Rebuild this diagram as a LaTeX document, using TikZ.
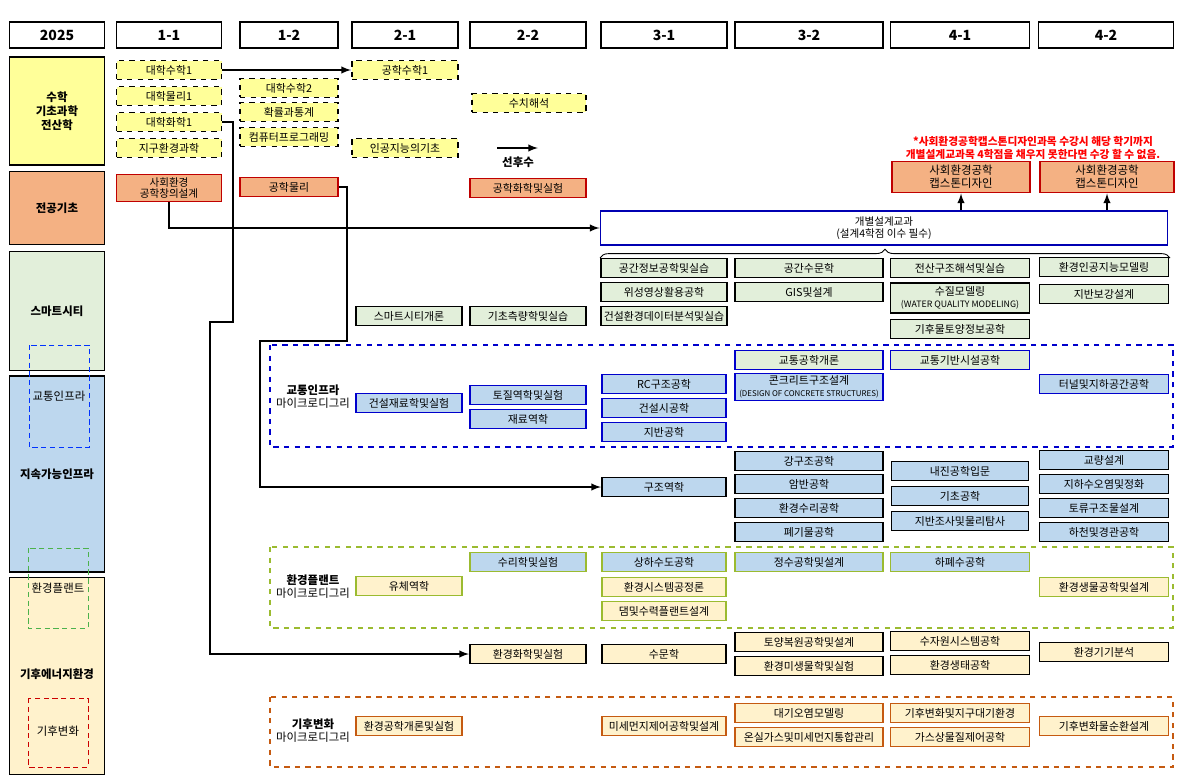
\documentclass[tikz,border=0pt]{standalone}
\usepackage{fontspec}
\setmainfont{Noto Sans CJK KR}
\usetikzlibrary{decorations.pathreplacing}
\definecolor{cYel}{HTML}{FFFF99}
\definecolor{cOra}{HTML}{F4B183}
\definecolor{cGrn}{HTML}{E2EFDA}
\definecolor{cBlu}{HTML}{BDD7EE}
\definecolor{cSan}{HTML}{FFF2CC}
\definecolor{bRed}{HTML}{C00000}
\definecolor{bBlu}{HTML}{0000CC}
\definecolor{bGrn}{HTML}{9BBB30}
\definecolor{bOra}{HTML}{C55A11}
\tikzset{
  crs/.style={draw, line width=1.1pt, minimum height=0.38cm, inner sep=0pt, align=center, font=\fontsize{6.2}{7}\selectfont},
  hdr/.style={draw, line width=0.6pt, minimum height=0.52cm, minimum width=1.9cm, font=\fontsize{8}{9}\selectfont\bfseries},
  cat/.style={draw, line width=0.6pt, minimum width=1.9cm, align=center, font=\fontsize{6.5}{8}\selectfont\bfseries},
  mdeg/.style={align=center, font=\fontsize{6.5}{7.5}\selectfont},
  lnk/.style={line width=0.9pt, -latex},
}
\begin{document}
\begin{tikzpicture}[x=0.02cm, y=-0.02cm]
\useasboundingbox (0,0) rectangle (1184,781);

% year header
\foreach \t/\x/\w in {2025/57/95, 1-1/169/105, 1-2/289/98, 2-1/405/106, 2-2/528/116, 3-1/664/126, 3-2/809/148, 4-1/960/139, 4-2/1106/135}
  \node[hdr, minimum width=\w*0.02cm] (h\t) at (\x,35) {\t};

% left categories
\node[cat, fill=cYel, minimum height=108*0.02cm] (kMath) at (57,111) {수학\\기초과학\\전산학};
\node[cat, fill=cOra, minimum height=73*0.02cm] (kBase) at (57,208) {전공기초};
\node[cat, fill=cGrn, minimum height=119*0.02cm] (kSmart) at (57,311) {스마트시티};
\node[cat, fill=cBlu, minimum height=196*0.02cm] (kInfra) at (57,474) {지속가능인프라};
\node[cat, fill=cSan, minimum height=197*0.02cm, text depth=0pt] (kEnv) at (57,676) {};
\node[cat, draw=none] at (57,674) {기후에너지환경};
\draw[blue!80!cyan, densely dashed, line width=0.4pt] (29,345) rectangle (89,447);
\node[mdeg] at (59,396) {교통인프라};
\draw[green!40!gray, densely dashed, line width=0.4pt] (28,548) rectangle (88,628);
\node[mdeg] at (58,588) {환경플랜트};
\draw[red!80!black, densely dashed, line width=0.4pt] (28,698) rectangle (88,767);
\node[mdeg] at (58,731) {기후변화};

% microdegree frames
\draw[bBlu, dashed, line width=1.1pt] (270,345) rectangle (1173,447);
\draw[bGrn, dashed, line width=1.1pt] (270,547) rectangle (1173,628);
\draw[bOra, dashed, line width=1.1pt] (270,697) rectangle (1173,767);
\node[mdeg] at (313,397) {\textbf{교통인프라}\\마이크로디그리};
\node[mdeg] at (313,587) {\textbf{환경플랜트}\\마이크로디그리};
\node[mdeg] at (313,731) {\textbf{기후변화}\\마이크로디그리};

% basic science (dashed)
\foreach \n/\x/\y/\w/\t in {m1/169/70/105/대학수학1, m2/169/96/105/대학물리1, m3/169/122/105/대학화학1, m4/169/148/105/지구환경과학,
  m5/289/88/98/대학수학2, m6/289/112/98/확률과통계, m7/289/137/98/컴퓨터프로그래밍,
  m8/405/70/106/공학수학1, m9/405/148/106/인공지능의기초, m10/529/103/114/수치해석}
  \node[crs, fill=cYel, dashed, minimum width=\w*0.02cm] (\n) at (\x,\y) {\t};

% legend
\coordinate (lgA) at (497,148);
\coordinate (lgB) at (538,148);
\draw[lnk] (lgA) -- (lgB);
\node[font=\fontsize{6.5}{7}\selectfont\bfseries] at (518,162) {선후수};

% major basics
\node[crs, fill=cOra, draw=bRed, minimum width=105*0.02cm, minimum height=27*0.02cm, font=\fontsize{6}{6.5}\selectfont] (b1) at (169,188) {사회환경\\공학창의설계};
\node[crs, fill=cOra, draw=bRed, minimum width=98*0.02cm] (b2) at (289,187) {공학물리};
\node[crs, fill=cOra, draw=bRed, minimum width=116*0.02cm] (b3) at (528,188) {공학화학및실험};
\node[crs, fill=cOra, draw=bRed, minimum width=138*0.02cm, minimum height=31*0.02cm, font=\fontsize{6.5}{7.5}\selectfont] (cap1) at (961,177) {사회환경공학\\캡스톤디자인};
\node[crs, fill=cOra, draw=bRed, minimum width=134*0.02cm, minimum height=31*0.02cm, font=\fontsize{6.5}{7.5}\selectfont] (cap2) at (1107,177) {사회환경공학\\캡스톤디자인};
\node[red, align=center, font=\fontsize{6.1}{7.6}\selectfont\bfseries] at (1033,148) {*사회환경공학캡스톤디자인과목 수강시 해당 학기까지\\개별설계교과목 4학점을 채우지 못한다면 수강 할 수 없음.};
\node[draw=blue!70!black, line width=1.1pt, fill=white, minimum width=567*0.02cm, minimum height=28*0.02cm, align=center, font=\fontsize{6}{7}\selectfont] (dsn) at (884,228) {개별설계교과\\(설계4학점 이수 필수)};
\draw[decorate, decoration={brace, amplitude=5pt}, line width=0.5pt] (600,258) -- (1170,258);

% smart city
\foreach \n/\x/\y/\w/\t in {s1/664/268/126/공간정보공학및실습, s2/664/292/126/위성영상활용공학, s3/664/316/126/건설환경데이터분석및실습,
  s4/809/268/148/공간수문학, s5/809/292/148/GIS및설계, s6/960/268/139/전산구조해석및실습, s8/960/329/139/기후물토양정보공학,
  s9/1104/267/129/환경인공지능모델링, s10/1104/294/129/지반보강설계, s11/409/316/106/스마트시티개론, s12/528/316/116/기초측량학및실습}
  \node[crs, fill=cGrn, minimum width=\w*0.02cm] (\n) at (\x,\y) {\t};
\node[crs, fill=cGrn, minimum width=139*0.02cm, minimum height=30*0.02cm] (s7) at (960,298) {수질모델링\\{\fontsize{5}{6}\selectfont (WATER QUALITY MODELING)}};

% transport infra
\foreach \n/\x/\y/\w/\t in {t1/409/403/106/건설재료학및실험, t2/528/395/116/토질역학및실험, t3/528/419/116/재료역학,
  t4/664/384/124/RC구조공학, t5/664/408/124/건설시공학, t6/664/432/124/지반공학, t9/1104/384/129/터널및지하공간공학}
  \node[crs, fill=cBlu, draw=bBlu, minimum width=\w*0.02cm] (\n) at (\x,\y) {\t};
\node[crs, fill=cGrn, draw=bBlu, minimum width=148*0.02cm] (t7) at (809,360) {교통공학개론};
\node[crs, fill=cGrn, draw=bBlu, minimum width=139*0.02cm] (t8) at (960,360) {교통기반시설공학};
\node[crs, fill=cBlu, draw=bBlu, minimum width=148*0.02cm, minimum height=27*0.02cm] (t10) at (809,387) {콘크리트구조설계\\{\fontsize{4.5}{5.5}\selectfont (DESIGN OF CONCRETE STRUCTURES)}};

% infra
\foreach \n/\x/\y/\w/\t in {i1/664/487/124/구조역학, i2/809/461/148/강구조공학, i3/809/484/148/암반공학, i4/809/508/148/환경수리공학, i5/809/532/148/폐기물공학,
  i6/960/471/137/내진공학입문, i7/960/496/137/기초공학, i8/960/521/137/지반조사및물리탐사,
  i9/1104/460/129/교량설계, i10/1104/484/129/지하수오염및정화, i11/1104/508/129/토류구조물설계, i12/1104/532/129/하천및경관공학}
  \node[crs, fill=cBlu, minimum width=\w*0.02cm] (\n) at (\x,\y) {\t};

% env plant
\foreach \n/\x/\y/\w/\t in {p1/528/562/116/수리학및실험, p2/664/562/124/상하수도공학, p3/809/562/148/정수공학및설계, p4/960/562/139/하폐수공학}
  \node[crs, fill=cBlu, draw=bGrn, minimum width=\w*0.02cm] (\n) at (\x,\y) {\t};
\foreach \n/\x/\y/\w/\t in {p5/409/586/106/유체역학, p6/664/587/124/환경시스템공정론, p7/664/611/124/댐및수력플랜트설계, p8/1104/587/129/환경생물공학및설계}
  \node[crs, fill=cSan, draw=bGrn, minimum width=\w*0.02cm] (\n) at (\x,\y) {\t};

% env
\foreach \n/\x/\y/\w/\t in {e1/528/654/116/환경화학및실험, e2/664/654/124/수문학, e3/809/642/148/토양복원공학및설계, e4/809/666/148/환경미생물학및실험,
  e5/960/641/139/수자원시스템공학, e6/960/665/139/환경생태공학, e7/1104/652/129/환경기기분석}
  \node[crs, fill=cSan, minimum width=\w*0.02cm] (\n) at (\x,\y) {\t};

% climate
\foreach \n/\x/\y/\w/\t in {c1/409/726/106/환경공학개론및실험, c2/664/726/124/미세먼지제어공학및설계, c3/809/713/148/대기오염모델링, c4/809/737/148/온실가스및미세먼지통합관리,
  c5/960/713/139/기후변화및지구대기환경, c6/960/737/139/가스상물질제어공학, c7/1104/726/129/기후변화물순환설계}
  \node[crs, fill=cSan, draw=bOra, minimum width=\w*0.02cm] (\n) at (\x,\y) {\t};

% prerequisites
\draw[lnk] (m1) -- (m8);
\draw[lnk] (m3.east) -| (233,322) -| (210,654) -- (e1.west);
\draw[lnk] (b2.east) -| (347,341) -| (260,487) -- (i1.west);
\draw[lnk] (b1.south) |- (dsn.west);
\draw[lnk] (dsn.north -| cap1) -- (cap1.south);
\draw[lnk] (dsn.north -| cap2) -- (cap2.south);
\end{tikzpicture}
\end{document}
